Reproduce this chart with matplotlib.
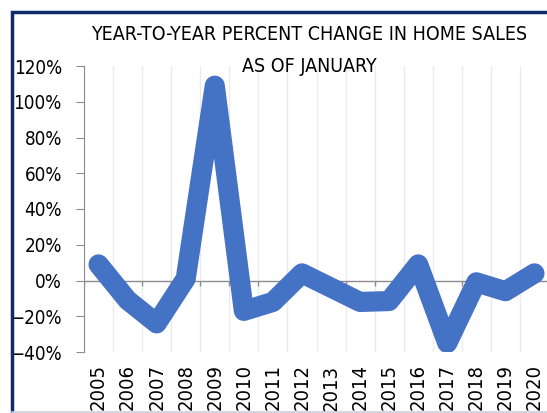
import matplotlib
matplotlib.use("Agg")
import matplotlib.pyplot as plt
from matplotlib.patches import Rectangle
from matplotlib.ticker import FixedLocator, PercentFormatter

years = ["2005", "2006", "2007", "2008", "2009", "2010", "2011", "2012",
         "2013", "2014", "2015", "2016", "2017", "2018", "2019", "2020"]
pct_change = [9, -11, -24, 1, 109, -17, -12, 4,
              -4, -12, -11.5, 9, -35, -1, -6, 4]
y_ticks = [-40, -20, 0, 20, 40, 60, 80, 100, 120]

plt.rcParams["font.family"] = ["DejaVu Sans"]
plt.rcParams["font.stretch"] = "condensed"

fig = plt.figure(figsize=(5.47, 4.13), dpi=100)
ax = fig.add_axes([84 / 547, 1 - 352 / 413, 465 / 547, 286 / 413])

x = list(range(len(years)))
bounds = [i - 0.5 for i in range(len(years) + 1)]
ax.plot(x, pct_change, color="#4472C4", lw=14.5,
        solid_capstyle="round", solid_joinstyle="round", zorder=3)

ax.set_xlim(-0.5, len(years) - 0.5)
ax.set_ylim(-40, 120)
ax.set_yticks(y_ticks)
ax.yaxis.set_major_formatter(PercentFormatter(decimals=0))
ax.set_xticks(x)
ax.set_xticklabels(years, rotation=90)
ax.xaxis.set_minor_locator(FixedLocator(bounds))
ax.grid(which="minor", axis="x", color="#EBEBEB", lw=1)

for s in ["top", "right", "bottom"]:
    ax.spines[s].set_visible(False)
ax.spines["left"].set_color("#8C8C8C")
ax.axhline(0, color="#8C8C8C", lw=1, zorder=2)
# small tick marks hanging below the zero line
ax.vlines(bounds, -3, 0, color="#8C8C8C", lw=1, zorder=2)
ax.tick_params(axis="y", length=6, color="#8C8C8C", labelsize=13.5, pad=10)
ax.tick_params(axis="x", which="major", length=0, labelsize=14.5, pad=9)
ax.tick_params(axis="x", which="minor", length=0)

fig.text(0.565, 1 - 34 / 413, "YEAR-TO-YEAR PERCENT CHANGE IN HOME SALES",
         ha="center", va="center", fontsize=14)
fig.text(0.565, 1 - 66 / 413, "AS OF JANUARY",
         ha="center", va="center", fontsize=14)

fig.patches.append(Rectangle((11.5 / 547, -0.5), 2, 1 - 11.5 / 413 + 0.5,
                             transform=fig.transFigure, fill=False,
                             edgecolor="#10296B", lw=2.5, clip_on=False))
fig.add_artist(plt.Line2D([12 / 547, 1], [1.5 / 413, 1.5 / 413],
                          color="#C8D0E0", lw=1.2))

fig.savefig("out.png", dpi=100)
